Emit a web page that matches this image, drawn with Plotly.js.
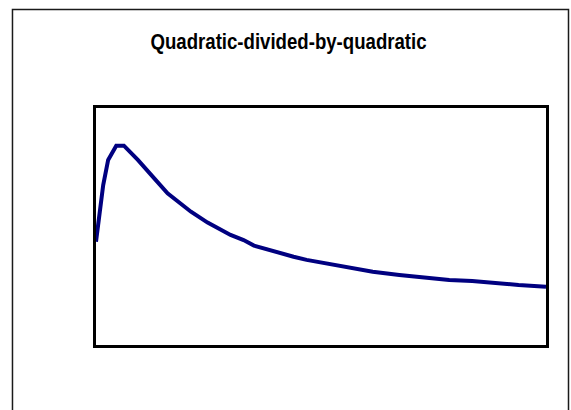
<!DOCTYPE html>
<html>
<head>
<meta charset="utf-8">
<script src="https://cdn.plot.ly/plotly-3.0.1.min.js"></script>
<style>
  html, body { margin: 0; padding: 0; background: #ffffff; }
  #chart { width: 571px; height: 410px; }
</style>
</head>
<body>
<div id="chart"></div>
<script>
// Sampled response of a quadratic-over-quadratic function
const xValues = [0, 1.6, 2.7, 4.5, 6.2, 9.3, 12.6, 15.9, 21.1, 24.8, 29.9, 32.8, 35.1,
                 39.5, 43.9, 46.8, 51.3, 55.7, 61.5, 67.4, 73.3, 78.5, 83.6, 88.8, 93.9, 100];
const yValues = [43.5, 66.9, 77.3, 83.2, 83.2, 77.3, 70.4, 63.5, 55.9, 51.4, 46.3, 44.2, 41.9,
                 39.4, 37.3, 36.0, 34.6, 33.2, 31.1, 29.8, 28.8, 27.7, 27.3, 26.3, 25.6, 24.9];
const chartTitle = "Quadratic-divided-by-quadratic";

const trace = {
  x: xValues,
  y: yValues,
  type: "scatter",
  mode: "lines",
  line: { color: "#000080", width: 4 },
  hoverinfo: "skip"
};

const axisStyle = {
  showgrid: false,
  zeroline: false,
  showticklabels: false,
  ticks: "",
  showline: true,
  mirror: true,
  linecolor: "#000000",
  linewidth: 3,
  fixedrange: true
};

const layout = {
  width: 571,
  height: 410,
  margin: { l: 96, r: 25, t: 108, b: 65 },
  paper_bgcolor: "#ffffff",
  plot_bgcolor: "#ffffff",
  showlegend: false,
  title: {
    text: chartTitle,
    font: { family: "Liberation Sans, Arial, sans-serif", size: 23, weight: "bold", color: "#000000" },
    xref: "container", x: 288.5 / 571, xanchor: "center",
    yref: "container", y: 1 - 41 / 410, yanchor: "middle"
  },
  xaxis: Object.assign({ range: [0, 100] }, axisStyle),
  yaxis: Object.assign({ range: [0.83, 98.76] }, axisStyle),
  shapes: [{
    // outer chart-area frame
    type: "rect", xref: "paper", yref: "paper",
    x0: -0.1856, x1: 1.05, y0: -0.32, y1: 1.4156,
    line: { color: "#1a1a1a", width: 1.5 },
    fillcolor: "rgba(0,0,0,0)", layer: "below"
  }]
};

// Condense the title horizontally (narrow bold face look)
function condenseTitle() {
  const t = document.querySelector("#chart .gtitle");
  if (!t) return;
  t.style.transformBox = "fill-box";
  t.style.transformOrigin = "center";
  t.style.transform = "scaleX(0.81)";
}

Plotly.newPlot("chart", [trace], layout, { staticPlot: true, displayModeBar: false })
  .then(condenseTitle);
</script>
</body>
</html>
